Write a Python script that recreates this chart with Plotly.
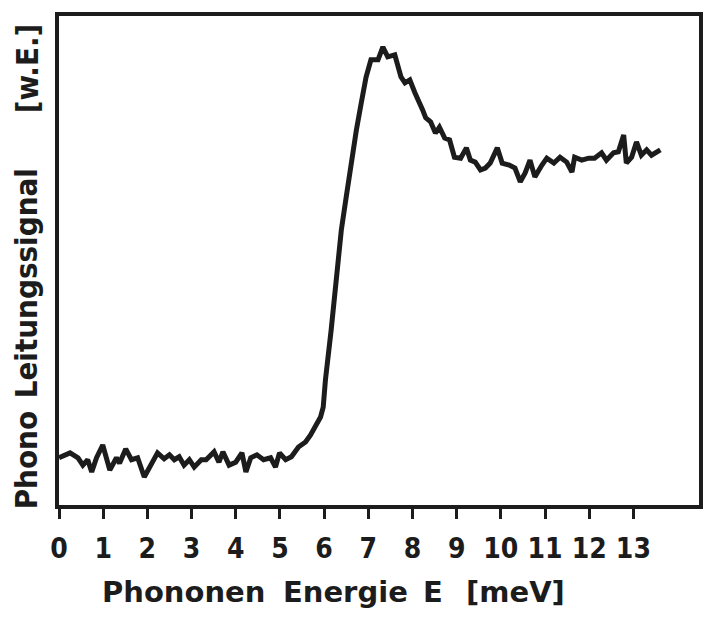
import plotly.graph_objects as go

# Phonon energy E [meV]
energy = [0.00, 0.25, 0.43, 0.54, 0.65, 0.74, 0.85, 0.99, 1.15, 1.30, 1.37, 1.51, 1.64, 1.78,
          1.93, 2.09, 2.23, 2.38, 2.50, 2.61, 2.72, 2.83, 2.95, 3.06, 3.22, 3.33, 3.51, 3.62,
          3.71, 3.85, 4.00, 4.14, 4.23, 4.34, 4.48, 4.63, 4.79, 4.90, 4.99, 5.13, 5.26, 5.42,
          5.58, 5.69, 5.80, 5.92, 5.98, 6.03, 6.16, 6.28, 6.39, 6.50, 6.61, 6.73, 6.84, 6.95,
          7.06, 7.22, 7.33, 7.44, 7.60, 7.67, 7.74, 7.83, 7.94, 8.05, 8.16, 8.23, 8.30, 8.41,
          8.52, 8.61, 8.73, 8.84, 8.95, 9.09, 9.22, 9.31, 9.42, 9.54, 9.65, 9.76, 9.92, 10.03,
          10.19, 10.32, 10.44, 10.55, 10.66, 10.77, 10.93, 11.04, 11.20, 11.34, 11.49, 11.61,
          11.67, 11.83, 11.99, 12.12, 12.28, 12.39, 12.55, 12.66, 12.78, 12.84, 12.96, 13.07,
          13.18, 13.30, 13.41, 13.52, 13.61]

# Phonon conduction signal [arbitrary units]
signal = [10.0, 11.0, 10.0, 8.5, 9.6, 7.1, 10.0, 12.6, 7.5, 10.0, 8.9, 11.8, 9.6, 10.0,
          6.1, 8.9, 11.0, 9.8, 10.6, 9.6, 10.2, 8.5, 9.6, 8.1, 9.6, 9.6, 11.2, 9.1,
          11.2, 8.5, 9.1, 11.0, 7.1, 10.0, 10.6, 9.6, 10.0, 8.1, 11.0, 9.6, 10.2, 12.2,
          13.2, 14.6, 16.3, 18.3, 20.3, 25.8, 36.0, 46.1, 56.3, 63.0, 69.9, 76.6, 82.1, 87.4,
          90.9, 90.9, 93.5, 91.5, 91.9, 89.4, 87.4, 86.2, 86.8, 84.3, 82.3, 80.7, 79.1, 78.3,
          76.0, 77.2, 75.0, 74.6, 71.1, 70.9, 73.0, 70.5, 70.1, 68.5, 68.9, 69.9, 73.0, 69.9,
          69.5, 68.9, 66.1, 67.9, 70.5, 67.1, 69.5, 70.9, 69.9, 71.1, 70.1, 68.1,
          71.1, 70.5, 70.9, 70.9, 72.0, 70.5, 72.0, 72.2, 75.6, 69.9, 71.1, 74.2,
          71.5, 72.6, 71.5, 72.2, 72.6]

tick_vals = list(range(0, 14))
tick_text = [str(v) for v in tick_vals]

x_title_words = ["Phononen", "Energie", "E", "[meV]"]
x_title_pos = [0.194, 0.447, 0.584, 0.713]
y_title_words = ["Phono", "Leitungssignal", "[w.E.]"]
y_title_pos = [0.092, 0.454, 0.894]

COND = "DejaVu Sans Condensed, DejaVu Sans, sans-serif"
WIDE = "DejaVu Sans, sans-serif"
INK = "#1c1c1c"

fig = go.Figure()
fig.add_trace(go.Scatter(x=energy, y=signal, mode="lines",
                         line=dict(color=INK, width=5), showlegend=False,
                         hoverinfo="skip"))

annotations = []
for w, p in zip(x_title_words, x_title_pos):
    annotations.append(dict(text=w, xref="paper", yref="paper", x=p, y=-0.178,
                            xanchor="center", yanchor="middle", showarrow=False,
                            font=dict(family=WIDE, size=29, color=INK, weight="bold")))
for w, p in zip(y_title_words, y_title_pos):
    annotations.append(dict(text=w, xref="paper", yref="paper", x=-0.051, y=p,
                            xanchor="center", yanchor="middle", showarrow=False,
                            textangle=-90,
                            font=dict(family=COND, size=31, color=INK, weight="bold")))

fig.update_layout(
    width=707, height=617,
    margin=dict(l=59, r=4, t=16, b=112),
    paper_bgcolor="white", plot_bgcolor="white",
    font=dict(family=COND, color=INK),
    xaxis=dict(range=[0, 14.485], showgrid=False, zeroline=False,
               showline=True, linecolor=INK, linewidth=4, mirror=True,
               ticks="outside", ticklen=10, tickwidth=3, tickcolor=INK,
               tickvals=tick_vals, ticktext=tick_text, ticklabelstandoff=5,
               tickfont=dict(family=COND, size=28, color=INK, weight="bold")),
    yaxis=dict(range=[0.4, 99.8], showgrid=False, zeroline=False,
               showline=True, linecolor=INK, linewidth=4, mirror=True,
               showticklabels=False, ticks=""),
    annotations=annotations,
)

post = ("document.body.style.margin='0';document.body.style.padding='0';"
        "var gd=document.getElementById('{plot_id}');"
        "Plotly.relayout(gd,{width:707,height:617});")

fig.write_html("out.html", config={"responsive": False, "displayModeBar": False},
               post_script=post)
